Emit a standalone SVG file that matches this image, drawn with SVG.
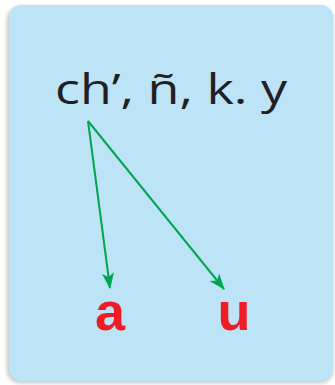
<svg xmlns="http://www.w3.org/2000/svg" width="335" height="385" viewBox="0 0 335 385">
<defs>
<filter id="sh" x="-10%" y="-10%" width="120%" height="120%">
<feGaussianBlur stdDeviation="2"/>
</filter>
<marker id="ah" viewBox="0 0 16 12" refX="15" refY="6" markerWidth="16" markerHeight="12" markerUnits="userSpaceOnUse" orient="auto">
<path d="M0,0 L16,6 L0,12 L4,6 Z" fill="#00a550"/>
</marker>
</defs>
<style>
.conn{stroke:#00a550;stroke-width:2;fill:none;marker-end:url(#ah)}
.lab{font-family:"Liberation Sans","DejaVu Sans",sans-serif;fill:#ee1c25;font-weight:bold;font-size:54px;text-anchor:middle}
</style>
<rect width="335" height="385" fill="#ffffff"/>
<rect x="7" y="7" width="326" height="376" rx="13" fill="#9a9a9a" opacity="0.6" filter="url(#sh)"/>
<g id="card">
<rect x="9" y="5" width="324" height="376" rx="12" fill="#bde3f7"/>
</g>
<g id="source">
<text x="171" y="104" font-family="'Open Sans','DejaVu Sans',sans-serif" font-size="42" fill="#231f20" text-anchor="middle" textLength="232" lengthAdjust="spacingAndGlyphs">ch’, ñ, k. y</text>
</g>
<g id="connectors">
<line class="conn" x1="88" y1="121" x2="110" y2="288"/>
<line class="conn" x1="88" y1="121" x2="224" y2="289"/>
</g>
<g id="a">
<text class="lab" x="110" y="330">a</text>
</g>
<g id="u">
<text class="lab" x="234" y="330">u</text>
</g>
</svg>
